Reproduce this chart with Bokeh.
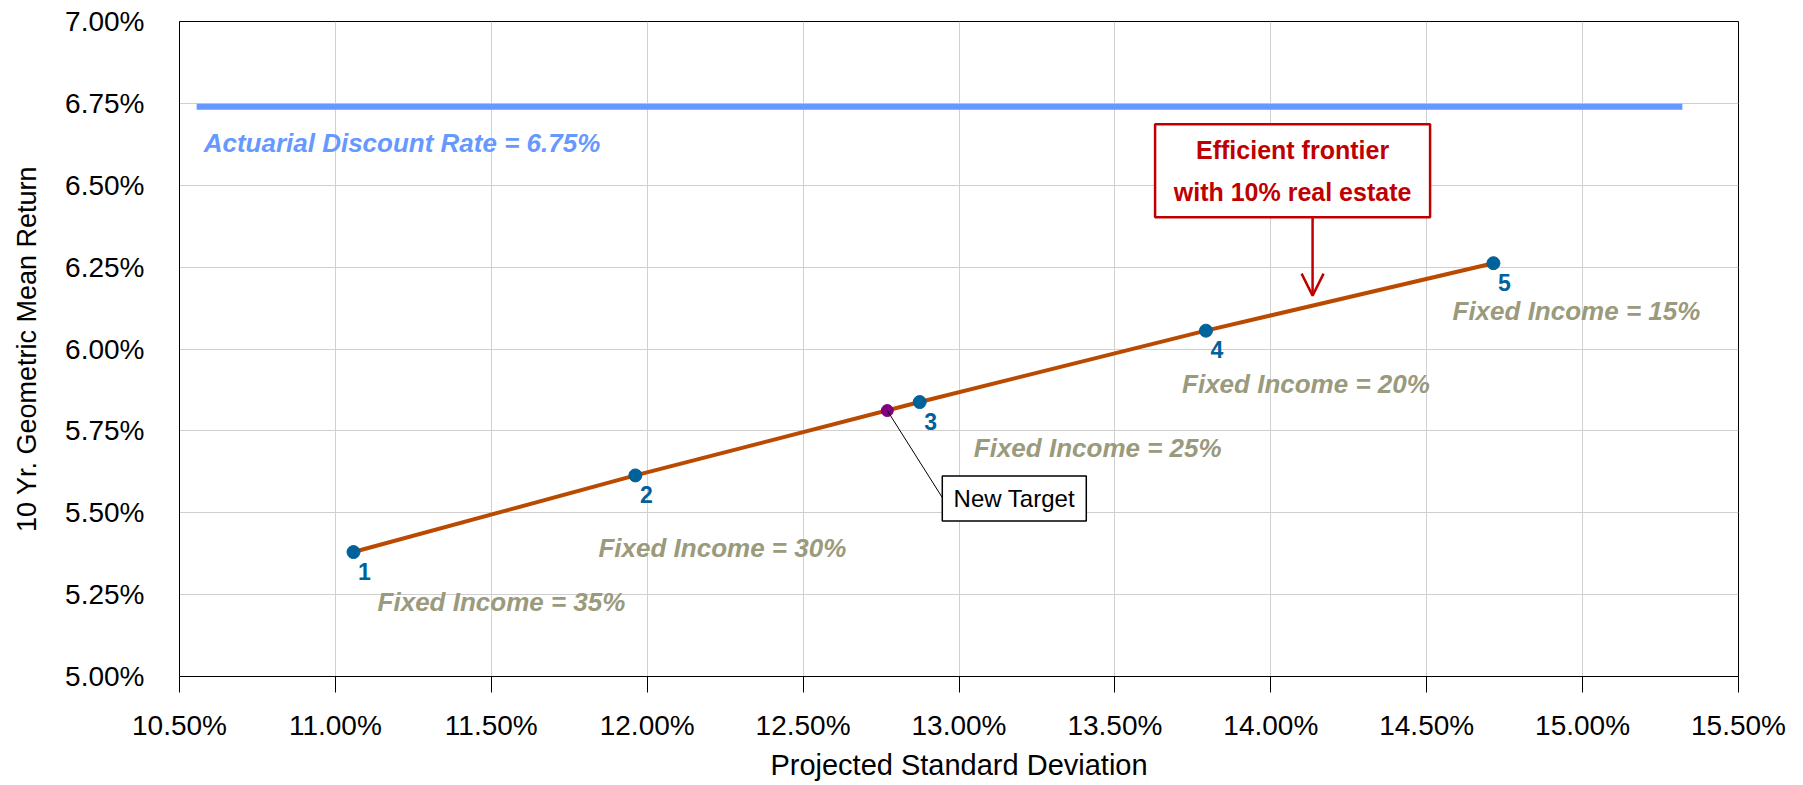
import numpy as np
from bokeh.plotting import figure
from bokeh.models import Range1d, SingleIntervalTicker, NumeralTickFormatter, Arrow, OpenHead
from bokeh.embed import file_html
from bokeh.resources import INLINE
from bokeh.core.properties import value

# ---------------- data ----------------
portfolio_ids = ["1", "2", "3", "4", "5"]
std_dev = [0.11058, 0.11962, 0.12874, 0.13792, 0.14714]
geo_return = [0.05380, 0.05614, 0.05838, 0.06056, 0.06262]
fixed_income_labels = ["Fixed Income = 35%", "Fixed Income = 30%", "Fixed Income = 25%",
                       "Fixed Income = 20%", "Fixed Income = 15%"]
target_std = [0.12770]
target_return = [0.05812]
target_label = "New Target"
discount_rate = 0.0674
discount_x = [0.10555, 0.15320]
discount_label = "Actuarial Discount Rate = 6.75%"
frontier_note = ["Efficient frontier", "with 10% real estate"]
frontier_note_x = 0.14134

# ---------------- layout / style ----------------
X_MIN, X_MAX = 0.105, 0.155
Y_MIN, Y_MAX = 0.050, 0.070
FRAME_W, FRAME_H = 1559, 655
XPX = (X_MAX - X_MIN) / FRAME_W
YPX = (Y_MAX - Y_MIN) / FRAME_H
FONT = "Liberation Sans"
BLUE_PT = "#00629B"
FRONTIER = "#BA4A00"
FI_COL = "#9A9A7C"
RED = "#C00000"
DR_COL = "#6699FF"

# pixel offsets for fixed-income labels (relative to each point)
fi_dx = [148, 87, 178, 100, 83]
fi_dy = [50, 73, 46, 53, 48]

p = figure(frame_width=FRAME_W, frame_height=FRAME_H,
           x_range=Range1d(X_MIN, X_MAX), y_range=Range1d(Y_MIN, Y_MAX),
           output_backend="svg", toolbar_location=None,
           min_border_left=179, min_border_top=21, min_border_right=57, min_border_bottom=106,
           background_fill_color="white", border_fill_color="white")

p.outline_line_color = "black"
p.outline_line_width = 1
p.grid.grid_line_color = "#D0D0D0"
p.grid.grid_line_width = 1

p.xaxis.ticker = SingleIntervalTicker(interval=0.005, num_minor_ticks=0)
p.yaxis.ticker = SingleIntervalTicker(interval=0.0025, num_minor_ticks=0)
p.xaxis.formatter = NumeralTickFormatter(format="0.00%")
p.yaxis.formatter = NumeralTickFormatter(format="0.00%")
for ax in (p.xaxis, p.yaxis):
    ax.axis_line_color = "black"
    ax.major_label_text_font = FONT
    ax.major_label_text_font_size = "28px"
    ax.major_label_text_color = "black"
    ax.axis_label_text_font = FONT
    ax.axis_label_text_font_style = "normal"
    ax.axis_label_text_color = "black"
    ax.minor_tick_line_color = None
    ax.major_tick_in = 0

p.xaxis.major_tick_out = 16
p.xaxis.major_tick_line_color = "black"
p.xaxis.major_label_standoff = 17
p.xaxis.axis_label = "Projected Standard Deviation"
p.xaxis.axis_label_text_font_size = "29px"
p.xaxis.axis_label_standoff = 5

p.yaxis.major_tick_out = 0
p.yaxis.major_label_standoff = 35
p.yaxis.axis_label = "10 Yr. Geometric Mean Return"
p.yaxis.axis_label_text_font_size = "27px"
p.yaxis.axis_label_standoff = 20

# actuarial discount rate line + label
p.line(discount_x, [discount_rate, discount_rate], line_color=DR_COL, line_width=6)
p.text(x=[discount_x[0]], y=[discount_rate], text=[discount_label],
       x_offset=7, y_offset=36, text_align="left", text_baseline="middle",
       text_font=value(FONT), text_font_style="bold italic", text_font_size="26px",
       text_color=DR_COL)

# efficient frontier
p.line(std_dev, geo_return, line_color=FRONTIER, line_width=4)
p.scatter(std_dev, geo_return, size=13, fill_color=BLUE_PT, line_color=BLUE_PT)
p.scatter(target_std, target_return, size=12, fill_color="#800080", line_color="#800080")

p.text(x=std_dev, y=geo_return, text=portfolio_ids, x_offset=11, y_offset=19,
       text_align="center", text_baseline="middle",
       text_font=value(FONT), text_font_style="bold", text_font_size="23px",
       text_color=BLUE_PT)

p.text(x=std_dev, y=geo_return, text=fixed_income_labels, x_offset=fi_dx, y_offset=fi_dy,
       text_align="center", text_baseline="middle",
       text_font=value(FONT), text_font_style="bold italic", text_font_size="26px",
       text_color=FI_COL)

# New Target callout
tx, ty = target_std[0], target_return[0]
box_cx, box_cy = tx + 127 * XPX, ty - 88 * YPX
p.segment(x0=[tx], y0=[ty], x1=[tx + 55 * XPX], y1=[ty - 87 * YPX],
          line_color="black", line_width=1)
p.rect(x=[box_cx], y=[box_cy], width=144, height=45, width_units="screen",
       height_units="screen", fill_color="white", line_color="black", line_width=1.5)
p.text(x=[box_cx], y=[box_cy], text=[target_label], text_align="center",
       text_baseline="middle", text_font=value(FONT), text_font_size="24px",
       text_color="black")

# Efficient frontier note with arrow
tip_y = float(np.interp(frontier_note_x, std_dev, geo_return)) + 10 * YPX
p.add_layout(Arrow(end=OpenHead(size=22, line_color=RED, line_width=2.5),
                   x_start=frontier_note_x, y_start=tip_y + 78 * YPX,
                   x_end=frontier_note_x, y_end=tip_y,
                   line_color=RED, line_width=2.5))
note_cx, note_cy = frontier_note_x - 20 * XPX, tip_y + 125 * YPX
p.rect(x=[note_cx], y=[note_cy], width=275, height=93, width_units="screen",
       height_units="screen", fill_color="white", line_color=RED, line_width=2.5)
p.text(x=[note_cx, note_cx], y=[note_cy, note_cy], text=frontier_note,
       y_offset=[-21, 21], text_align="center", text_baseline="middle",
       text_font=value(FONT), text_font_style="bold", text_font_size="25px",
       text_color=RED)

open("out.html", "w").write(file_html(p, INLINE))
